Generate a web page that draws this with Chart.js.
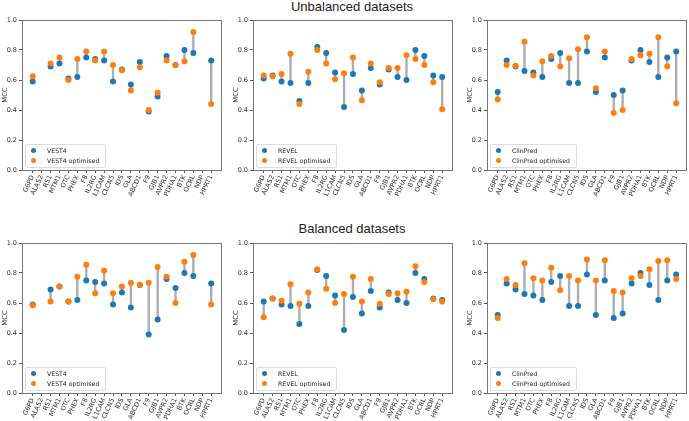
<!DOCTYPE html>
<html>
<head>
<meta charset="utf-8">
<script src="https://cdn.jsdelivr.net/npm/chart.js@4"></script>
<style>
  body { margin: 0; width: 689px; height: 421px; overflow: hidden; background: #fff; position: relative; font-family: 'DejaVu Sans', sans-serif; }
  canvas { position: absolute; }
  .titulo { position: absolute; left: 0; width: 704px; text-align: center; font-family: 'Liberation Sans', Arial, sans-serif; font-size: 13px; line-height: 15px; color: #222; }
  .leyenda { position: absolute; border: 1px solid #ddd; border-radius: 2px; background: rgba(255,255,255,0.85); font-size: 6.2px; line-height: 10px; padding: 1px 6px 1px 5px; color: #222; white-space: nowrap; }
  .leyenda .punto { display: inline-block; width: 5px; height: 5px; border-radius: 50%; margin-right: 11px; vertical-align: middle; position: relative; top: -1px; }
</style>
</head>
<body>
<div class="titulo" style="top:-1px">Unbalanced datasets</div>
<div class="titulo" style="top:221px">Balanced datasets</div>
<script>
// categorias (genes) del eje x
const categorias = ['G6PD', 'ALAS2', 'RS1', 'MTM1', 'OTC', 'PHEX', 'F8', 'IL2RG', 'L1CAM', 'CLCN5', 'IDS',
  'GLA', 'ABCD1', 'F9', 'GJB1', 'AVPR2', 'PDHA1', 'BTK', 'OCRL', 'NDP', 'HPRT1'];
const ticksY = [0, 0.2, 0.4, 0.6, 0.8, 1.0];

// MCC original de cada predictor (igual en ambos conjuntos)
const vest4 = [0.59, null, 0.69, 0.71, 0.61, 0.62, 0.75, 0.74, 0.73, 0.59, 0.67, 0.57, 0.72, 0.39, 0.49, 0.76, 0.70, 0.80, 0.78, null, 0.73];
const revel = [0.61, 0.63, 0.59, 0.58, 0.46, 0.58, 0.82, 0.78, 0.65, 0.42, 0.64, 0.53, 0.68, 0.57, 0.67, 0.62, 0.60, 0.80, 0.76, 0.63, 0.62];
const clinpred = [0.52, 0.73, 0.69, 0.66, 0.65, 0.62, 0.74, 0.78, 0.58, 0.58, 0.79, 0.52, 0.75, 0.50, 0.53, 0.73, 0.80, 0.72, 0.62, 0.75, 0.79];

// MCC optimizado - datos no balanceados
const vest4OptUnbal = [0.625, null, 0.71, 0.75, 0.60, 0.74, 0.79, 0.73, 0.79, 0.70, 0.665, 0.53, 0.685, 0.40, 0.515, 0.73, 0.70, 0.725, 0.92, null, 0.44];
const revelOptUnbal = [0.63, 0.625, 0.64, 0.775, 0.44, 0.655, 0.80, 0.71, 0.605, 0.645, 0.75, 0.465, 0.71, 0.585, 0.68, 0.68, 0.765, 0.74, 0.70, 0.585, 0.405];
const clinpredOptUnbal = [0.47, 0.70, 0.695, 0.855, 0.63, 0.725, 0.76, 0.69, 0.745, 0.805, 0.885, 0.545, 0.79, 0.38, 0.40, 0.74, 0.765, 0.775, 0.885, 0.69, 0.445];

// MCC optimizado - datos balanceados
const vest4OptBal = [0.585, null, 0.61, 0.71, 0.61, 0.775, 0.855, 0.665, 0.815, 0.665, 0.71, 0.735, 0.72, 0.735, 0.84, 0.775, 0.60, 0.875, 0.92, null, 0.59];
const revelOptBal = [0.505, 0.63, 0.615, 0.725, 0.595, 0.67, 0.825, 0.695, 0.60, 0.66, 0.775, 0.61, 0.76, 0.595, 0.66, 0.665, 0.675, 0.845, 0.74, 0.625, 0.61];
const clinpredOptBal = [0.50, 0.76, 0.72, 0.865, 0.765, 0.75, 0.835, 0.685, 0.78, 0.75, 0.89, 0.75, 0.885, 0.68, 0.67, 0.765, 0.78, 0.825, 0.88, 0.885, 0.76];

const AZUL = '#1f77b4';
const NARANJA = '#ff7f0e';
const GRIS = '#adadad';

Chart.defaults.font.family = "'DejaVu Sans', sans-serif";
Chart.defaults.font.size = 6.5;
Chart.defaults.color = '#333';

// marco completo alrededor del area del grafico (estilo matplotlib)
const marco = {
  id: 'marco',
  afterDraw(chart) {
    const a = chart.chartArea, ctx = chart.ctx;
    ctx.save();
    ctx.strokeStyle = '#777';
    ctx.lineWidth = 1;
    ctx.strokeRect(Math.round(a.left) + 0.5, Math.round(a.top) + 0.5, Math.round(a.right - a.left), Math.round(a.bottom - a.top));
    ctx.restore();
  }
};

function crearPanel(izq, arriba, nombre, original, optimizado) {
  const canvas = document.createElement('canvas');
  canvas.width = 225;
  canvas.height = 205;
  canvas.style.left = (izq - 22) + 'px';
  canvas.style.top = (arriba - 8) + 'px';
  document.body.appendChild(canvas);

  const puntos = serie => categorias.map((c, i) => ({ x: i, y: serie[i] })).filter(p => p.y !== null);
  const barras = categorias.map((c, i) => ({ x: i, y: [original[i], optimizado[i]] })).filter(p => p.y[0] !== null);

  new Chart(canvas, {
    type: 'scatter',
    data: {
      datasets: [
        { type: 'bar', data: barras, backgroundColor: GRIS, borderWidth: 0, barThickness: 1.7, order: 3 },
        { label: nombre, data: puntos(original), backgroundColor: AZUL, borderWidth: 0, pointRadius: 3, order: 2 },
        { label: nombre + ' optimised', data: puntos(optimizado), backgroundColor: NARANJA, borderWidth: 0, pointRadius: 3, order: 1 }
      ]
    },
    options: {
      responsive: false,
      animation: false,
      devicePixelRatio: 1,
      layout: { padding: { top: 8, right: 2, left: 0, bottom: 0 } },
      plugins: { legend: { display: false }, tooltip: { enabled: false } },
      scales: {
        x: {
          type: 'linear', min: -1.2, max: 21.1, offset: false,
          afterBuildTicks: eje => { eje.ticks = categorias.map((c, i) => ({ value: i })); },
          afterFit: eje => { eje.height = 47; },
          ticks: { autoSkip: false, maxRotation: 65, minRotation: 65, padding: 1, callback: v => categorias[v] },
          grid: { drawOnChartArea: false, offset: false, tickLength: 3, color: '#555' },
          border: { color: '#777' }
        },
        y: {
          min: 0, max: 1,
          afterBuildTicks: eje => { eje.ticks = ticksY.map(v => ({ value: v })); },
          afterFit: eje => { eje.width = 22; },
          ticks: { padding: 2, callback: v => v.toFixed(1) },
          grid: { drawOnChartArea: false, tickLength: 3, color: '#555' },
          border: { color: '#777' },
          title: { display: true, text: 'MCC', font: { size: 6.8 }, padding: { top: 1, bottom: 0 } }
        }
      }
    },
    plugins: [marco]
  });

  // leyenda dentro del grafico, abajo a la izquierda
  const ley = document.createElement('div');
  ley.className = 'leyenda';
  ley.style.left = (izq + 3) + 'px';
  ley.style.top = (arriba + 150 - 26) + 'px';
  ley.innerHTML = '<div><span class="punto" style="background:' + AZUL + '"></span>' + nombre + '</div>' +
    '<div><span class="punto" style="background:' + NARANJA + '"></span>' + nombre + ' optimised</div>';
  document.body.appendChild(ley);
}

crearPanel(22, 20, 'VEST4', vest4, vest4OptUnbal);
crearPanel(253, 20, 'REVEL', revel, revelOptUnbal);
crearPanel(487, 20, 'ClinPred', clinpred, clinpredOptUnbal);
crearPanel(22, 243, 'VEST4', vest4, vest4OptBal);
crearPanel(253, 243, 'REVEL', revel, revelOptBal);
crearPanel(487, 243, 'ClinPred', clinpred, clinpredOptBal);
</script>
</body>
</html>
